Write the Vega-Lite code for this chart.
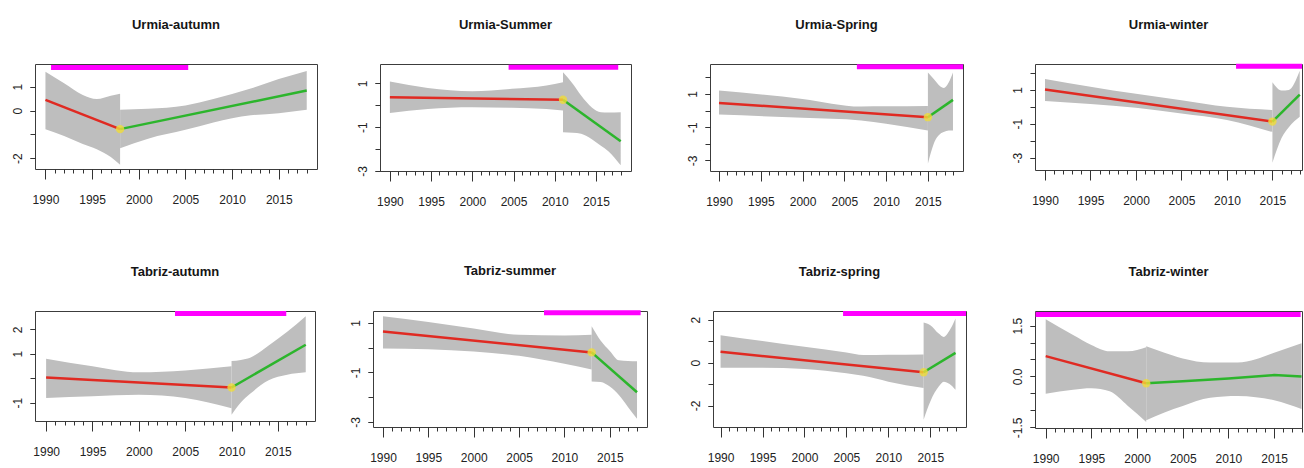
{
  "$schema": "https://vega.github.io/schema/vega-lite/v6.json",
  "background": "white",
  "padding": {"left": 0, "top": 18, "right": 0, "bottom": 0},
  "autosize": {"type": "pad"},
  "datasets": {
    "band": [
      {"panel": "UA", "seg": "a", "year": 1990, "lo": -0.78, "hi": 1.63},
      {"panel": "UA", "seg": "a", "year": 1992, "lo": -1.07, "hi": 1.14},
      {"panel": "UA", "seg": "a", "year": 1994, "lo": -1.40, "hi": 0.65},
      {"panel": "UA", "seg": "a", "year": 1995.5, "lo": -1.62, "hi": 0.48},
      {"panel": "UA", "seg": "a", "year": 1997, "lo": -1.95, "hi": 0.62},
      {"panel": "UA", "seg": "a", "year": 1998, "lo": -2.27, "hi": 0.70},
      {"panel": "UA", "seg": "b", "year": 1998, "lo": -1.58, "hi": 0.03},
      {"panel": "UA", "seg": "b", "year": 2001, "lo": -1.18, "hi": 0.07},
      {"panel": "UA", "seg": "b", "year": 2005, "lo": -0.81, "hi": 0.21},
      {"panel": "UA", "seg": "b", "year": 2008, "lo": -0.50, "hi": 0.48},
      {"panel": "UA", "seg": "b", "year": 2012, "lo": -0.20, "hi": 0.92},
      {"panel": "UA", "seg": "b", "year": 2015, "lo": -0.11, "hi": 1.32},
      {"panel": "UA", "seg": "b", "year": 2018, "lo": 0.03, "hi": 1.66},

      {"panel": "US", "seg": "a", "year": 1990, "lo": -0.36, "hi": 1.08},
      {"panel": "US", "seg": "a", "year": 1994.6, "lo": -0.17, "hi": 0.79},
      {"panel": "US", "seg": "a", "year": 2000, "lo": -0.09, "hi": 0.64},
      {"panel": "US", "seg": "a", "year": 2004.8, "lo": -0.12, "hi": 0.75},
      {"panel": "US", "seg": "a", "year": 2009, "lo": -0.17, "hi": 0.90},
      {"panel": "US", "seg": "a", "year": 2011, "lo": -0.24, "hi": 1.05},
      {"panel": "US", "seg": "b", "year": 2011, "lo": -1.23, "hi": 1.50},
      {"panel": "US", "seg": "b", "year": 2012.2, "lo": -1.25, "hi": 0.97},
      {"panel": "US", "seg": "b", "year": 2013.2, "lo": -1.30, "hi": 0.44},
      {"panel": "US", "seg": "b", "year": 2014.5, "lo": -1.55, "hi": -0.10},
      {"panel": "US", "seg": "b", "year": 2015.6, "lo": -1.85, "hi": -0.32},
      {"panel": "US", "seg": "b", "year": 2016.5, "lo": -2.10, "hi": -0.33},
      {"panel": "US", "seg": "b", "year": 2018, "lo": -2.74, "hi": -0.32},

      {"panel": "USp", "seg": "a", "year": 1990, "lo": -0.24, "hi": 1.20},
      {"panel": "USp", "seg": "a", "year": 2000, "lo": -0.44, "hi": 0.70},
      {"panel": "USp", "seg": "a", "year": 2007, "lo": -0.60, "hi": 0.24},
      {"panel": "USp", "seg": "a", "year": 2010, "lo": -0.80, "hi": 0.25},
      {"panel": "USp", "seg": "a", "year": 2015, "lo": -1.20, "hi": 0.27},
      {"panel": "USp", "seg": "b", "year": 2015, "lo": -3.20, "hi": 2.29},
      {"panel": "USp", "seg": "b", "year": 2015.7, "lo": -2.00, "hi": 1.90},
      {"panel": "USp", "seg": "b", "year": 2016.5, "lo": -1.40, "hi": 1.45},
      {"panel": "USp", "seg": "b", "year": 2016.9, "lo": -1.30, "hi": 1.36},
      {"panel": "USp", "seg": "b", "year": 2017.5, "lo": -1.20, "hi": 1.70},
      {"panel": "USp", "seg": "b", "year": 2018, "lo": -1.20, "hi": 2.29},

      {"panel": "UW", "seg": "a", "year": 1990, "lo": 0.35, "hi": 1.65},
      {"panel": "UW", "seg": "a", "year": 2000, "lo": -0.06, "hi": 0.77},
      {"panel": "UW", "seg": "a", "year": 2005, "lo": -0.39, "hi": 0.39},
      {"panel": "UW", "seg": "a", "year": 2010, "lo": -0.77, "hi": 0.0},
      {"panel": "UW", "seg": "a", "year": 2015, "lo": -1.49, "hi": -0.19},
      {"panel": "UW", "seg": "b", "year": 2015, "lo": -3.30, "hi": 1.45},
      {"panel": "UW", "seg": "b", "year": 2016, "lo": -1.84, "hi": 0.97},
      {"panel": "UW", "seg": "b", "year": 2016.8, "lo": -1.20, "hi": 1.00},
      {"panel": "UW", "seg": "b", "year": 2018, "lo": -0.58, "hi": 2.13},

      {"panel": "TA", "seg": "a", "year": 1990, "lo": -0.81, "hi": 0.80},
      {"panel": "TA", "seg": "a", "year": 1995, "lo": -0.74, "hi": 0.49},
      {"panel": "TA", "seg": "a", "year": 2000, "lo": -0.68, "hi": 0.24},
      {"panel": "TA", "seg": "a", "year": 2005, "lo": -0.81, "hi": 0.32},
      {"panel": "TA", "seg": "a", "year": 2010, "lo": -1.23, "hi": 0.49},
      {"panel": "TA", "seg": "b", "year": 2010, "lo": -1.49, "hi": 0.70},
      {"panel": "TA", "seg": "b", "year": 2011, "lo": -0.99, "hi": 0.75},
      {"panel": "TA", "seg": "b", "year": 2012, "lo": -0.64, "hi": 0.84},
      {"panel": "TA", "seg": "b", "year": 2014, "lo": -0.08, "hi": 1.34},
      {"panel": "TA", "seg": "b", "year": 2016, "lo": 0.14, "hi": 1.90},
      {"panel": "TA", "seg": "b", "year": 2018, "lo": 0.24, "hi": 2.54},

      {"panel": "TS", "seg": "a", "year": 1990, "lo": -0.03, "hi": 1.27},
      {"panel": "TS", "seg": "a", "year": 1995, "lo": -0.06, "hi": 1.04},
      {"panel": "TS", "seg": "a", "year": 2000, "lo": -0.15, "hi": 0.77},
      {"panel": "TS", "seg": "a", "year": 2005, "lo": -0.33, "hi": 0.52},
      {"panel": "TS", "seg": "a", "year": 2010, "lo": -0.65, "hi": 0.49},
      {"panel": "TS", "seg": "a", "year": 2013, "lo": -0.88, "hi": 0.52},
      {"panel": "TS", "seg": "b", "year": 2013, "lo": -1.36, "hi": 0.86},
      {"panel": "TS", "seg": "b", "year": 2014, "lo": -1.38, "hi": 0.28},
      {"panel": "TS", "seg": "b", "year": 2015, "lo": -1.57, "hi": -0.13},
      {"panel": "TS", "seg": "b", "year": 2016, "lo": -1.91, "hi": -0.51},
      {"panel": "TS", "seg": "b", "year": 2017, "lo": -2.39, "hi": -0.54},
      {"panel": "TS", "seg": "b", "year": 2018, "lo": -2.87, "hi": -0.55},

      {"panel": "TSp", "seg": "a", "year": 1990, "lo": -0.24, "hi": 1.27},
      {"panel": "TSp", "seg": "a", "year": 1995, "lo": -0.24, "hi": 1.00},
      {"panel": "TSp", "seg": "a", "year": 2000, "lo": -0.30, "hi": 0.73},
      {"panel": "TSp", "seg": "a", "year": 2005, "lo": -0.50, "hi": 0.47},
      {"panel": "TSp", "seg": "a", "year": 2007, "lo": -0.62, "hi": 0.35},
      {"panel": "TSp", "seg": "a", "year": 2010, "lo": -0.89, "hi": 0.36},
      {"panel": "TSp", "seg": "a", "year": 2014.2, "lo": -1.19, "hi": 0.38},
      {"panel": "TSp", "seg": "b", "year": 2014.2, "lo": -2.66, "hi": 1.86},
      {"panel": "TSp", "seg": "b", "year": 2015, "lo": -1.81, "hi": 1.74},
      {"panel": "TSp", "seg": "b", "year": 2016, "lo": -1.12, "hi": 1.35},
      {"panel": "TSp", "seg": "b", "year": 2016.6, "lo": -0.89, "hi": 1.19},
      {"panel": "TSp", "seg": "b", "year": 2017.3, "lo": -1.00, "hi": 1.50},
      {"panel": "TSp", "seg": "b", "year": 2018, "lo": -1.27, "hi": 2.05},

      {"panel": "TW", "seg": "a", "year": 1990, "lo": -0.51, "hi": 1.69},
      {"panel": "TW", "seg": "a", "year": 1993, "lo": -0.39, "hi": 1.22},
      {"panel": "TW", "seg": "a", "year": 1995, "lo": -0.35, "hi": 0.93},
      {"panel": "TW", "seg": "a", "year": 1997, "lo": -0.44, "hi": 0.74},
      {"panel": "TW", "seg": "a", "year": 1999, "lo": -0.87, "hi": 0.74},
      {"panel": "TW", "seg": "a", "year": 2001, "lo": -1.34, "hi": 0.86},
      {"panel": "TW", "seg": "b", "year": 2001, "lo": -1.29, "hi": 0.89},
      {"panel": "TW", "seg": "b", "year": 2003, "lo": -1.06, "hi": 0.70},
      {"panel": "TW", "seg": "b", "year": 2005, "lo": -0.87, "hi": 0.53},
      {"panel": "TW", "seg": "b", "year": 2008, "lo": -0.63, "hi": 0.41},
      {"panel": "TW", "seg": "b", "year": 2011, "lo": -0.58, "hi": 0.41},
      {"panel": "TW", "seg": "b", "year": 2013, "lo": -0.61, "hi": 0.51},
      {"panel": "TW", "seg": "b", "year": 2015, "lo": -0.70, "hi": 0.70},
      {"panel": "TW", "seg": "b", "year": 2018, "lo": -0.96, "hi": 0.98}
    ],
    "fit": [
      {"panel": "UA", "seg": "a", "year": 1990, "fit": 0.45},
      {"panel": "UA", "seg": "a", "year": 1998, "fit": -0.78},
      {"panel": "UA", "seg": "b", "year": 1998, "fit": -0.78},
      {"panel": "UA", "seg": "b", "year": 2018, "fit": 0.84},
      {"panel": "US", "seg": "a", "year": 1990, "fit": 0.36},
      {"panel": "US", "seg": "a", "year": 2011, "fit": 0.25},
      {"panel": "US", "seg": "b", "year": 2011, "fit": 0.25},
      {"panel": "US", "seg": "b", "year": 2018, "fit": -1.64},
      {"panel": "USp", "seg": "a", "year": 1990, "fit": 0.46},
      {"panel": "USp", "seg": "a", "year": 2015, "fit": -0.40},
      {"panel": "USp", "seg": "b", "year": 2015, "fit": -0.40},
      {"panel": "USp", "seg": "b", "year": 2018, "fit": 0.64},
      {"panel": "UW", "seg": "a", "year": 1990, "fit": 1.03},
      {"panel": "UW", "seg": "a", "year": 2015, "fit": -0.87},
      {"panel": "UW", "seg": "b", "year": 2015, "fit": -0.87},
      {"panel": "UW", "seg": "b", "year": 2018, "fit": 0.72},
      {"panel": "TA", "seg": "a", "year": 1990, "fit": 0.03},
      {"panel": "TA", "seg": "a", "year": 2010, "fit": -0.38},
      {"panel": "TA", "seg": "b", "year": 2010, "fit": -0.38},
      {"panel": "TA", "seg": "b", "year": 2018, "fit": 1.37},
      {"panel": "TS", "seg": "a", "year": 1990, "fit": 0.65},
      {"panel": "TS", "seg": "a", "year": 2013, "fit": -0.19},
      {"panel": "TS", "seg": "b", "year": 2013, "fit": -0.19},
      {"panel": "TS", "seg": "b", "year": 2018, "fit": -1.80},
      {"panel": "TSp", "seg": "a", "year": 1990, "fit": 0.50},
      {"panel": "TSp", "seg": "a", "year": 2014.2, "fit": -0.45},
      {"panel": "TSp", "seg": "b", "year": 2014.2, "fit": -0.45},
      {"panel": "TSp", "seg": "b", "year": 2018, "fit": 0.45},
      {"panel": "TW", "seg": "a", "year": 1990, "fit": 0.60},
      {"panel": "TW", "seg": "a", "year": 2001, "fit": -0.20},
      {"panel": "TW", "seg": "b", "year": 2001, "fit": -0.20},
      {"panel": "TW", "seg": "b", "year": 2005, "fit": -0.14},
      {"panel": "TW", "seg": "b", "year": 2010, "fit": -0.06},
      {"panel": "TW", "seg": "b", "year": 2015, "fit": 0.04},
      {"panel": "TW", "seg": "b", "year": 2018, "fit": 0.0}
    ],
    "cp": [
      {"panel": "UA", "year": 1998, "fit": -0.78},
      {"panel": "US", "year": 2011, "fit": 0.25},
      {"panel": "USp", "year": 2015, "fit": -0.40},
      {"panel": "UW", "year": 2015, "fit": -0.87},
      {"panel": "TA", "year": 2010, "fit": -0.38},
      {"panel": "TS", "year": 2013, "fit": -0.19},
      {"panel": "TSp", "year": 2014.2, "fit": -0.45},
      {"panel": "TW", "year": 2001, "fit": -0.20}
    ],
    "bar": [
      {"panel": "UA", "start": 1990.6, "end": 2005.3, "y": 1.80},
      {"panel": "US", "start": 2004.4, "end": 2017.7, "y": 1.73},
      {"panel": "USp", "start": 2006.5, "end": 2019.2, "y": 2.63},
      {"panel": "UW", "start": 2011.0, "end": 2018.25, "y": 2.40},
      {"panel": "TA", "start": 2003.9, "end": 2015.9, "y": 2.65},
      {"panel": "TS", "start": 2007.75, "end": 2018.4, "y": 1.41},
      {"panel": "TSp", "start": 2004.6, "end": 2019.25, "y": 2.28},
      {"panel": "TW", "start": 1988.9, "end": 2017.9, "y": 1.83}
    ]
  },
  "spacing": 56,
  "vconcat": [
    {
      "spacing": 10,
      "hconcat": [
        {
          "title": {"text": "Urmia-autumn"},
          "width": 282, "height": 105,
          "resolve": {"axis": {"x": "independent", "y": "independent"}},
          "layer": [
            {"data": {"name": "band"}, "transform": [{"filter": "datum.panel === 'UA'"}],
             "mark": {"type": "area", "color": "#bebebe", "interpolate": "monotone"},
             "encoding": {
               "x": {"field": "year", "type": "quantitative", "title": null, "scale": {"domain": [1988.88, 2019.1], "nice": false, "zero": false},
                     "axis": {"orient": "bottom", "values": [1990,1995,2000,2005,2010,2015], "format": "d", "tickSize": 10}},
               "y": {"field": "lo", "type": "quantitative", "title": null, "scale": {"domain": [-2.45, 1.95], "nice": false, "zero": false},
                     "axis": {"orient": "left", "values": [1,0,-2], "minExtent": 34, "labelExpr": "replace(format(datum.value, 'd'), '\u2212', '-')"}},
               "y2": {"field": "hi"},
               "detail": {"field": "seg"}
             }},
            {"data": {"name": "fit"}, "transform": [{"filter": "datum.panel === 'UA'"}],
             "mark": {"type": "line", "strokeWidth": 2.5},
             "encoding": {"x": {"field": "year", "type": "quantitative", "title": null, "axis": {"orient": "bottom", "values": [1990,1991,1992,1993,1994,1995,1996,1997,1998,1999,2000,2001,2002,2003,2004,2005,2006,2007,2008,2009,2010,2011,2012,2013,2014,2015,2016,2017,2018], "labels": false, "tickSize": 4}},
               "y": {"field": "fit", "type": "quantitative", "title": null, "axis": {"orient": "left", "values": [-2,-1,0,1], "labels": false}},
               "color": {"field": "seg", "type": "nominal", "scale": {"domain": ["a", "b"], "range": ["#e02a22", "#2cb52c"]}, "legend": null}}},
            {"data": {"name": "cp"}, "transform": [{"filter": "datum.panel === 'UA'"}],
             "mark": {"type": "point", "filled": true, "size": 70, "color": "#efdc3a", "opacity": 0.8},
             "encoding": {"x": {"field": "year", "type": "quantitative", "title": null, "axis": null}, "y": {"field": "fit", "type": "quantitative", "title": null, "axis": null}}},
            {"data": {"name": "bar"}, "transform": [{"filter": "datum.panel === 'UA'"}],
             "mark": {"type": "rule", "color": "#ff00ff", "strokeWidth": 5},
             "encoding": {"x": {"field": "start", "type": "quantitative", "title": null, "axis": null}, "x2": {"field": "end"}, "y": {"field": "y", "type": "quantitative", "title": null, "axis": null}}}
          ]
        },
        {
          "title": {"text": "Urmia-Summer"},
          "width": 251, "height": 107,
          "resolve": {"axis": {"x": "independent", "y": "independent"}},
          "layer": [
            {"data": {"name": "band"}, "transform": [{"filter": "datum.panel === 'US'"}],
             "mark": {"type": "area", "color": "#bebebe", "interpolate": "monotone"},
             "encoding": {
               "x": {"field": "year", "type": "quantitative", "title": null, "scale": {"domain": [1988.8, 2019.25], "nice": false, "zero": false},
                     "axis": {"orient": "bottom", "values": [1990,1995,2000,2005,2010,2015], "format": "d", "tickSize": 10}},
               "y": {"field": "lo", "type": "quantitative", "title": null, "scale": {"domain": [-3.0, 1.88], "nice": false, "zero": false},
                     "axis": {"orient": "left", "values": [1,-1,-3], "minExtent": 51.5, "labelExpr": "replace(format(datum.value, 'd'), '\u2212', '-')"}},
               "y2": {"field": "hi"},
               "detail": {"field": "seg"}
             }},
            {"data": {"name": "fit"}, "transform": [{"filter": "datum.panel === 'US'"}],
             "mark": {"type": "line", "strokeWidth": 2.5},
             "encoding": {"x": {"field": "year", "type": "quantitative", "title": null, "axis": {"orient": "bottom", "values": [1990,1991,1992,1993,1994,1995,1996,1997,1998,1999,2000,2001,2002,2003,2004,2005,2006,2007,2008,2009,2010,2011,2012,2013,2014,2015,2016,2017,2018], "labels": false, "tickSize": 4}},
               "y": {"field": "fit", "type": "quantitative", "title": null, "axis": {"orient": "left", "values": [-3,-2,-1,0,1], "labels": false}},
               "color": {"field": "seg", "type": "nominal", "scale": {"domain": ["a", "b"], "range": ["#e02a22", "#2cb52c"]}, "legend": null}}},
            {"data": {"name": "cp"}, "transform": [{"filter": "datum.panel === 'US'"}],
             "mark": {"type": "point", "filled": true, "size": 70, "color": "#efdc3a", "opacity": 0.8},
             "encoding": {"x": {"field": "year", "type": "quantitative", "title": null, "axis": null}, "y": {"field": "fit", "type": "quantitative", "title": null, "axis": null}}},
            {"data": {"name": "bar"}, "transform": [{"filter": "datum.panel === 'US'"}],
             "mark": {"type": "rule", "color": "#ff00ff", "strokeWidth": 5},
             "encoding": {"x": {"field": "start", "type": "quantitative", "title": null, "axis": null}, "x2": {"field": "end"}, "y": {"field": "y", "type": "quantitative", "title": null, "axis": null}}}
          ]
        },
        {
          "title": {"text": "Urmia-Spring"},
          "width": 253, "height": 107,
          "resolve": {"axis": {"x": "independent", "y": "independent"}},
          "layer": [
            {"data": {"name": "band"}, "transform": [{"filter": "datum.panel === 'USp'"}],
             "mark": {"type": "area", "color": "#bebebe", "interpolate": "monotone"},
             "encoding": {
               "x": {"field": "year", "type": "quantitative", "title": null, "scale": {"domain": [1988.92, 2019.2], "nice": false, "zero": false},
                     "axis": {"orient": "bottom", "values": [1990,1995,2000,2005,2010,2015], "format": "d", "tickSize": 10}},
               "y": {"field": "lo", "type": "quantitative", "title": null, "scale": {"domain": [-3.64, 2.8], "nice": false, "zero": false},
                     "axis": {"orient": "left", "values": [1,-1,-3], "minExtent": 67.5, "labelExpr": "replace(format(datum.value, 'd'), '\u2212', '-')"}},
               "y2": {"field": "hi"},
               "detail": {"field": "seg"}
             }},
            {"data": {"name": "fit"}, "transform": [{"filter": "datum.panel === 'USp'"}],
             "mark": {"type": "line", "strokeWidth": 2.5},
             "encoding": {"x": {"field": "year", "type": "quantitative", "title": null, "axis": {"orient": "bottom", "values": [1990,1991,1992,1993,1994,1995,1996,1997,1998,1999,2000,2001,2002,2003,2004,2005,2006,2007,2008,2009,2010,2011,2012,2013,2014,2015,2016,2017,2018], "labels": false, "tickSize": 4}},
               "y": {"field": "fit", "type": "quantitative", "title": null, "axis": {"orient": "left", "values": [-3,-2,-1,0,1,2], "labels": false}},
               "color": {"field": "seg", "type": "nominal", "scale": {"domain": ["a", "b"], "range": ["#e02a22", "#2cb52c"]}, "legend": null}}},
            {"data": {"name": "cp"}, "transform": [{"filter": "datum.panel === 'USp'"}],
             "mark": {"type": "point", "filled": true, "size": 70, "color": "#efdc3a", "opacity": 0.8},
             "encoding": {"x": {"field": "year", "type": "quantitative", "title": null, "axis": null}, "y": {"field": "fit", "type": "quantitative", "title": null, "axis": null}}},
            {"data": {"name": "bar"}, "transform": [{"filter": "datum.panel === 'USp'"}],
             "mark": {"type": "rule", "color": "#ff00ff", "strokeWidth": 5},
             "encoding": {"x": {"field": "start", "type": "quantitative", "title": null, "axis": null}, "x2": {"field": "end"}, "y": {"field": "y", "type": "quantitative", "title": null, "axis": null}}}
          ]
        },
        {
          "title": {"text": "Urmia-winter"},
          "width": 267, "height": 106,
          "resolve": {"axis": {"x": "independent", "y": "independent"}},
          "layer": [
            {"data": {"name": "band"}, "transform": [{"filter": "datum.panel === 'UW'"}],
             "mark": {"type": "area", "color": "#bebebe", "interpolate": "monotone"},
             "encoding": {
               "x": {"field": "year", "type": "quantitative", "title": null, "scale": {"domain": [1988.9, 2018.25], "nice": false, "zero": false},
                     "axis": {"orient": "bottom", "values": [1990,1995,2000,2005,2010,2015], "format": "d", "tickSize": 10}},
               "y": {"field": "lo", "type": "quantitative", "title": null, "scale": {"domain": [-3.73, 2.53], "nice": false, "zero": false},
                     "axis": {"orient": "left", "values": [1,-1,-3], "minExtent": 58.5, "labelExpr": "replace(format(datum.value, 'd'), '\u2212', '-')"}},
               "y2": {"field": "hi"},
               "detail": {"field": "seg"}
             }},
            {"data": {"name": "fit"}, "transform": [{"filter": "datum.panel === 'UW'"}],
             "mark": {"type": "line", "strokeWidth": 2.5},
             "encoding": {"x": {"field": "year", "type": "quantitative", "title": null, "axis": {"orient": "bottom", "values": [1990,1991,1992,1993,1994,1995,1996,1997,1998,1999,2000,2001,2002,2003,2004,2005,2006,2007,2008,2009,2010,2011,2012,2013,2014,2015,2016,2017,2018], "labels": false, "tickSize": 4}},
               "y": {"field": "fit", "type": "quantitative", "title": null, "axis": {"orient": "left", "values": [-3,-2,-1,0,1,2], "labels": false}},
               "color": {"field": "seg", "type": "nominal", "scale": {"domain": ["a", "b"], "range": ["#e02a22", "#2cb52c"]}, "legend": null}}},
            {"data": {"name": "cp"}, "transform": [{"filter": "datum.panel === 'UW'"}],
             "mark": {"type": "point", "filled": true, "size": 70, "color": "#efdc3a", "opacity": 0.8},
             "encoding": {"x": {"field": "year", "type": "quantitative", "title": null, "axis": null}, "y": {"field": "fit", "type": "quantitative", "title": null, "axis": null}}},
            {"data": {"name": "bar"}, "transform": [{"filter": "datum.panel === 'UW'"}],
             "mark": {"type": "rule", "color": "#ff00ff", "strokeWidth": 5},
             "encoding": {"x": {"field": "start", "type": "quantitative", "title": null, "axis": null}, "x2": {"field": "end"}, "y": {"field": "y", "type": "quantitative", "title": null, "axis": null}}}
          ]
        }
      ]
    },
    {
      "spacing": 10,
      "hconcat": [
        {
          "title": {"text": "Tabriz-autumn"},
          "width": 280, "height": 110,
          "resolve": {"axis": {"x": "independent", "y": "independent"}},
          "layer": [
            {"data": {"name": "band"}, "transform": [{"filter": "datum.panel === 'TA'"}],
             "mark": {"type": "area", "color": "#bebebe", "interpolate": "monotone"},
             "encoding": {
               "x": {"field": "year", "type": "quantitative", "title": null, "scale": {"domain": [1988.8, 2019.0], "nice": false, "zero": false},
                     "axis": {"orient": "bottom", "values": [1990,1995,2000,2005,2010,2015], "format": "d", "tickSize": 10}},
               "y": {"field": "lo", "type": "quantitative", "title": null, "scale": {"domain": [-1.75, 2.75], "nice": false, "zero": false},
                     "axis": {"orient": "left", "values": [2,1,-1], "minExtent": 31.6, "labelExpr": "replace(format(datum.value, 'd'), '\u2212', '-')"}},
               "y2": {"field": "hi"},
               "detail": {"field": "seg"}
             }},
            {"data": {"name": "fit"}, "transform": [{"filter": "datum.panel === 'TA'"}],
             "mark": {"type": "line", "strokeWidth": 2.5},
             "encoding": {"x": {"field": "year", "type": "quantitative", "title": null, "axis": {"orient": "bottom", "values": [1990,1991,1992,1993,1994,1995,1996,1997,1998,1999,2000,2001,2002,2003,2004,2005,2006,2007,2008,2009,2010,2011,2012,2013,2014,2015,2016,2017,2018], "labels": false, "tickSize": 4}},
               "y": {"field": "fit", "type": "quantitative", "title": null, "axis": {"orient": "left", "values": [-1,0,1,2], "labels": false}},
               "color": {"field": "seg", "type": "nominal", "scale": {"domain": ["a", "b"], "range": ["#e02a22", "#2cb52c"]}, "legend": null}}},
            {"data": {"name": "cp"}, "transform": [{"filter": "datum.panel === 'TA'"}],
             "mark": {"type": "point", "filled": true, "size": 70, "color": "#efdc3a", "opacity": 0.8},
             "encoding": {"x": {"field": "year", "type": "quantitative", "title": null, "axis": null}, "y": {"field": "fit", "type": "quantitative", "title": null, "axis": null}}},
            {"data": {"name": "bar"}, "transform": [{"filter": "datum.panel === 'TA'"}],
             "mark": {"type": "rule", "color": "#ff00ff", "strokeWidth": 5},
             "encoding": {"x": {"field": "start", "type": "quantitative", "title": null, "axis": null}, "x2": {"field": "end"}, "y": {"field": "y", "type": "quantitative", "title": null, "axis": null}}}
          ]
        },
        {
          "title": {"text": "Tabriz-summer"},
          "width": 274, "height": 116,
          "resolve": {"axis": {"x": "independent", "y": "independent"}},
          "layer": [
            {"data": {"name": "band"}, "transform": [{"filter": "datum.panel === 'TS'"}],
             "mark": {"type": "area", "color": "#bebebe", "interpolate": "monotone"},
             "encoding": {
               "x": {"field": "year", "type": "quantitative", "title": null, "scale": {"domain": [1988.9, 2019.1], "nice": false, "zero": false},
                     "axis": {"orient": "bottom", "values": [1990,1995,2000,2005,2010,2015], "format": "d", "tickSize": 10}},
               "y": {"field": "lo", "type": "quantitative", "title": null, "scale": {"domain": [-3.2, 1.48], "nice": false, "zero": false},
                     "axis": {"orient": "left", "values": [1,-1,-3], "minExtent": 45.6, "labelExpr": "replace(format(datum.value, 'd'), '\u2212', '-')"}},
               "y2": {"field": "hi"},
               "detail": {"field": "seg"}
             }},
            {"data": {"name": "fit"}, "transform": [{"filter": "datum.panel === 'TS'"}],
             "mark": {"type": "line", "strokeWidth": 2.5},
             "encoding": {"x": {"field": "year", "type": "quantitative", "title": null, "axis": {"orient": "bottom", "values": [1990,1991,1992,1993,1994,1995,1996,1997,1998,1999,2000,2001,2002,2003,2004,2005,2006,2007,2008,2009,2010,2011,2012,2013,2014,2015,2016,2017,2018], "labels": false, "tickSize": 4}},
               "y": {"field": "fit", "type": "quantitative", "title": null, "axis": {"orient": "left", "values": [-3,-2,-1,0,1], "labels": false}},
               "color": {"field": "seg", "type": "nominal", "scale": {"domain": ["a", "b"], "range": ["#e02a22", "#2cb52c"]}, "legend": null}}},
            {"data": {"name": "cp"}, "transform": [{"filter": "datum.panel === 'TS'"}],
             "mark": {"type": "point", "filled": true, "size": 70, "color": "#efdc3a", "opacity": 0.8},
             "encoding": {"x": {"field": "year", "type": "quantitative", "title": null, "axis": null}, "y": {"field": "fit", "type": "quantitative", "title": null, "axis": null}}},
            {"data": {"name": "bar"}, "transform": [{"filter": "datum.panel === 'TS'"}],
             "mark": {"type": "rule", "color": "#ff00ff", "strokeWidth": 5},
             "encoding": {"x": {"field": "start", "type": "quantitative", "title": null, "axis": null}, "x2": {"field": "end"}, "y": {"field": "y", "type": "quantitative", "title": null, "axis": null}}}
          ]
        },
        {
          "title": {"text": "Tabriz-spring"},
          "width": 253, "height": 116,
          "resolve": {"axis": {"x": "independent", "y": "independent"}},
          "layer": [
            {"data": {"name": "band"}, "transform": [{"filter": "datum.panel === 'TSp'"}],
             "mark": {"type": "area", "color": "#bebebe", "interpolate": "monotone"},
             "encoding": {
               "x": {"field": "year", "type": "quantitative", "title": null, "scale": {"domain": [1989.1, 2019.25], "nice": false, "zero": false},
                     "axis": {"orient": "bottom", "values": [1990,1995,2000,2005,2010,2015], "format": "d", "tickSize": 10}},
               "y": {"field": "lo", "type": "quantitative", "title": null, "scale": {"domain": [-3.0, 2.4], "nice": false, "zero": false},
                     "axis": {"orient": "left", "values": [2,0,-2], "minExtent": 53.8, "labelExpr": "replace(format(datum.value, 'd'), '\u2212', '-')"}},
               "y2": {"field": "hi"},
               "detail": {"field": "seg"}
             }},
            {"data": {"name": "fit"}, "transform": [{"filter": "datum.panel === 'TSp'"}],
             "mark": {"type": "line", "strokeWidth": 2.5},
             "encoding": {"x": {"field": "year", "type": "quantitative", "title": null, "axis": {"orient": "bottom", "values": [1990,1991,1992,1993,1994,1995,1996,1997,1998,1999,2000,2001,2002,2003,2004,2005,2006,2007,2008,2009,2010,2011,2012,2013,2014,2015,2016,2017,2018], "labels": false, "tickSize": 4}},
               "y": {"field": "fit", "type": "quantitative", "title": null, "axis": {"orient": "left", "values": [-2,-1,0,1,2], "labels": false}},
               "color": {"field": "seg", "type": "nominal", "scale": {"domain": ["a", "b"], "range": ["#e02a22", "#2cb52c"]}, "legend": null}}},
            {"data": {"name": "cp"}, "transform": [{"filter": "datum.panel === 'TSp'"}],
             "mark": {"type": "point", "filled": true, "size": 70, "color": "#efdc3a", "opacity": 0.8},
             "encoding": {"x": {"field": "year", "type": "quantitative", "title": null, "axis": null}, "y": {"field": "fit", "type": "quantitative", "title": null, "axis": null}}},
            {"data": {"name": "bar"}, "transform": [{"filter": "datum.panel === 'TSp'"}],
             "mark": {"type": "rule", "color": "#ff00ff", "strokeWidth": 5},
             "encoding": {"x": {"field": "start", "type": "quantitative", "title": null, "axis": null}, "x2": {"field": "end"}, "y": {"field": "y", "type": "quantitative", "title": null, "axis": null}}}
          ]
        },
        {
          "title": {"text": "Tabriz-winter"},
          "width": 267, "height": 117,
          "resolve": {"axis": {"x": "independent", "y": "independent"}},
          "layer": [
            {"data": {"name": "band"}, "transform": [{"filter": "datum.panel === 'TW'"}],
             "mark": {"type": "area", "color": "#bebebe", "interpolate": "monotone"},
             "encoding": {
               "x": {"field": "year", "type": "quantitative", "title": null, "scale": {"domain": [1988.83, 2018.05], "nice": false, "zero": false},
                     "axis": {"orient": "bottom", "values": [1990,1995,2000,2005,2010,2015], "format": "d", "tickSize": 10}},
               "y": {"field": "lo", "type": "quantitative", "title": null, "scale": {"domain": [-1.52, 1.93], "nice": false, "zero": false},
                     "axis": {"orient": "left", "values": [1.5,0,-1.5], "minExtent": 55.3, "labelExpr": "replace(format(datum.value, '.1f'), '\u2212', '-')"}},
               "y2": {"field": "hi"},
               "detail": {"field": "seg"}
             }},
            {"data": {"name": "fit"}, "transform": [{"filter": "datum.panel === 'TW'"}],
             "mark": {"type": "line", "strokeWidth": 2.5},
             "encoding": {"x": {"field": "year", "type": "quantitative", "title": null, "axis": {"orient": "bottom", "values": [1990,1991,1992,1993,1994,1995,1996,1997,1998,1999,2000,2001,2002,2003,2004,2005,2006,2007,2008,2009,2010,2011,2012,2013,2014,2015,2016,2017,2018], "labels": false, "tickSize": 4}},
               "y": {"field": "fit", "type": "quantitative", "title": null, "axis": {"orient": "left", "values": [-1.5,-1,-0.5,0,0.5,1,1.5], "labels": false}},
               "color": {"field": "seg", "type": "nominal", "scale": {"domain": ["a", "b"], "range": ["#e02a22", "#2cb52c"]}, "legend": null}}},
            {"data": {"name": "cp"}, "transform": [{"filter": "datum.panel === 'TW'"}],
             "mark": {"type": "point", "filled": true, "size": 70, "color": "#efdc3a", "opacity": 0.8},
             "encoding": {"x": {"field": "year", "type": "quantitative", "title": null, "axis": null}, "y": {"field": "fit", "type": "quantitative", "title": null, "axis": null}}},
            {"data": {"name": "bar"}, "transform": [{"filter": "datum.panel === 'TW'"}],
             "mark": {"type": "rule", "color": "#ff00ff", "strokeWidth": 5},
             "encoding": {"x": {"field": "start", "type": "quantitative", "title": null, "axis": null}, "x2": {"field": "end"}, "y": {"field": "y", "type": "quantitative", "title": null, "axis": null}}}
          ]
        }
      ]
    }
  ],
  "config": {
    "font": "Liberation Sans, Arial, sans-serif",
    "view": {"stroke": "#3c3c3c", "strokeWidth": 1},
    "title": {"font": "Liberation Sans, Arial, sans-serif", "fontSize": 13, "fontWeight": "bold", "color": "#151515", "offset": 32, "anchor": "middle"},
    "axis": {"domain": false, "grid": false, "labelFont": "Liberation Sans, Arial, sans-serif", "labelFontSize": 12, "labelColor": "#222222", "tickColor": "#333333", "tickWidth": 1, "labelOverlap": false},
    "axisX": {"labelPadding": 15, "labelFlush": false},
    "axisY": {"tickSize": 5, "labelPadding": 6, "labelAngle": -90, "labelAlign": "center", "labelBaseline": "bottom"}
  }
}
